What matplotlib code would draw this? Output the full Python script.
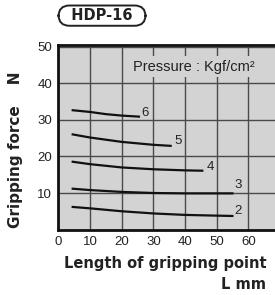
import matplotlib
matplotlib.use('Agg')
import matplotlib.pyplot as plt

# curves (L mm -> gripping force N), one per pressure
pressures = ['2', '3', '4', '5', '6']
x2 = [4.2, 10, 20, 30, 40, 50, 55.3]
y2 = [6.2, 5.8, 5.0, 4.4, 4.0, 3.8, 3.7]
x3 = [4.2, 10, 20, 30, 40, 50, 55.3]
y3 = [11.2, 10.8, 10.3, 10.0, 9.9, 9.9, 9.9]
x4 = [4.2, 10, 20, 30, 40, 45.8]
y4 = [18.6, 17.9, 17.0, 16.5, 16.2, 16.1]
x5 = [4.2, 10, 20, 30, 35.8]
y5 = [26.1, 25.2, 24.0, 23.2, 22.9]
x6 = [4.2, 10, 15, 20, 25.8]
y6 = [32.7, 32.2, 31.6, 31.2, 30.9]
label_x = [56.8, 56.8, 47.9, 37.9, 27.4]
label_y = [5.2, 12.2, 17.0, 24.3, 31.8]
xticks = [0, 10, 20, 30, 40, 50, 60]
yticks = [10, 20, 30, 40, 50]

fig = plt.figure(figsize=(2.75, 2.95), dpi=100)
ax = fig.add_axes([0.212, 0.222, 0.788, 0.625])
ax.set_facecolor('#d3d3d3')

xs = [x2, x3, x4, x5, x6]
ys = [y2, y3, y4, y5, y6]
for i in range(len(pressures)):
    ax.plot(xs[i], ys[i], color='#111111', lw=1.6, solid_capstyle='butt', zorder=3)
    ax.text(label_x[i], label_y[i], pressures[i], ha='center', va='center',
            fontsize=9.5, family='Liberation Sans', color='#222222', zorder=4)

ax.set_xlim(0, 68.4)
ax.set_ylim(0, 50.5)
ax.set_xticks(xticks)
ax.set_yticks(yticks)
ax.set_xticklabels([str(t) for t in xticks], family='Liberation Sans', fontsize=9.5)
ax.set_yticklabels([str(t) for t in yticks], family='Liberation Sans', fontsize=9.5)
ax.tick_params(length=0, pad=4.5, colors='#222222')
ax.grid(True, color='#4a4a4a', lw=1.0)
ax.set_axisbelow(True)

for side in ['left', 'top', 'bottom']:
    ax.spines[side].set_linewidth(2)
    ax.spines[side].set_color('#111111')
ax.spines['right'].set_visible(False)

ax.text(23.6, 44.6, 'Pressure : Kgf/cm²', ha='left', va='center', fontsize=10.5,
        family='Liberation Sans', color='#222222', zorder=2,
        bbox=dict(boxstyle='square,pad=0.25', fc='#d3d3d3', ec='none'))

# title pill
fig.text(0.371, 0.947, '  HDP-16  ', ha='center', va='center', fontsize=10.5,
         fontweight='bold', family='DejaVu Sans', color='#222222',
         bbox=dict(boxstyle='round,pad=0.18,rounding_size=0.75', fc='white',
                   ec='#222222', lw=1.4))

fig.text(0.055, 0.493, 'Gripping force    N', rotation=90, ha='center', va='center',
         fontsize=11, fontweight='bold', family='DejaVu Sans', color='#222222')
fig.text(0.970, 1 - 267.7 / 295, 'Length of gripping point', ha='right', va='baseline',
         fontsize=10.5, fontweight='bold', family='DejaVu Sans', color='#222222')
fig.text(0.968, 1 - 289 / 295, 'L mm', ha='right', va='baseline',
         fontsize=10.5, fontweight='bold', family='DejaVu Sans', color='#222222')

fig.savefig('out.png', dpi=100)
